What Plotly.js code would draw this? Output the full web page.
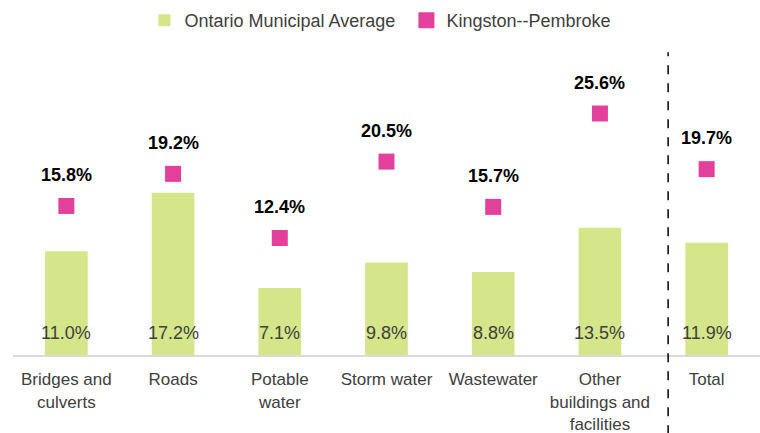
<!DOCTYPE html>
<html>
<head>
<meta charset="utf-8">
<script src="https://cdn.plot.ly/plotly-3.0.1.min.js"></script>
<style>html,body{margin:0;padding:0;background:#fff;}#chart{width:760px;height:433px;}</style>
</head>
<body>
<div id="chart"></div>
<script>
const categories = ["Bridges and<br>culverts", "Roads", "Potable<br>water", "Storm water", "Wastewater", "Other<br>buildings and<br>facilities", "Total"];
const ontarioAvg = [11.0, 17.2, 7.1, 9.8, 8.8, 13.5, 11.9];
const kingston = [15.8, 19.2, 12.4, 20.5, 15.7, 25.6, 19.7];

const FONT = '"Liberation Sans", Arial, sans-serif';
const GREY = '#404040';

const barTrace = {
  type: 'bar',
  name: 'Ontario Municipal Average',
  x: categories,
  y: ontarioAvg,
  marker: {color: '#d4e58a'},
  hoverinfo: 'skip'
};
const sqTrace = {
  type: 'scatter',
  mode: 'markers',
  name: 'Kingston--Pembroke',
  x: categories,
  y: kingston,
  marker: {symbol: 'square', size: 16, color: '#e2409a'},
  hoverinfo: 'skip'
};

const annotations = [];
categories.forEach((c, i) => {
  annotations.push({
    x: c, y: 0, xref: 'x', yref: 'y',
    text: ontarioAvg[i].toFixed(1) + '%',
    showarrow: false, yanchor: 'middle', yshift: 22,
    font: {family: FONT, size: 18, color: GREY}
  });
  annotations.push({
    x: c, y: kingston[i], xref: 'x', yref: 'y',
    text: '<b>' + kingston[i].toFixed(1) + '%</b>',
    showarrow: false, yanchor: 'middle', yshift: 31,
    font: {family: FONT, size: 18, color: '#000'}
  });
});

const layout = {
  width: 760, height: 433,
  margin: {l: 13, r: 0, t: 72, b: 78},
  paper_bgcolor: '#fff', plot_bgcolor: '#fff',
  bargap: 0.6,
  showlegend: true,
  legend: {
    orientation: 'h', x: 0.19, xanchor: 'left', xref: 'container',
    y: 0.995, yanchor: 'top', yref: 'container',
    entrywidth: 217, entrywidthmode: 'pixels',
    font: {family: FONT, size: 18, color: GREY},
    itemclick: false
  },
  xaxis: {
    type: 'category',
    showgrid: false, zeroline: false,
    showline: true, linecolor: '#d9d9d9', linewidth: 2,
    ticks: '', ticklabelstandoff: 8,
    tickfont: {family: FONT, size: 17, color: GREY},
    fixedrange: true
  },
  yaxis: {
    range: [0, 30],
    showgrid: false, zeroline: false, showline: false,
    showticklabels: false, ticks: '',
    fixedrange: true
  },
  annotations: annotations,
  shapes: [{
    type: 'line', xref: 'paper', yref: 'paper',
    x0: 0.877, x1: 0.877, y0: -0.28, y1: 1.07,
    line: {color: '#000', width: 1.5, dash: 'dash'}
  }]
};

Plotly.newPlot('chart', [barTrace, sqTrace], layout, {displayModeBar: false, staticPlot: true});
</script>
</body>
</html>
